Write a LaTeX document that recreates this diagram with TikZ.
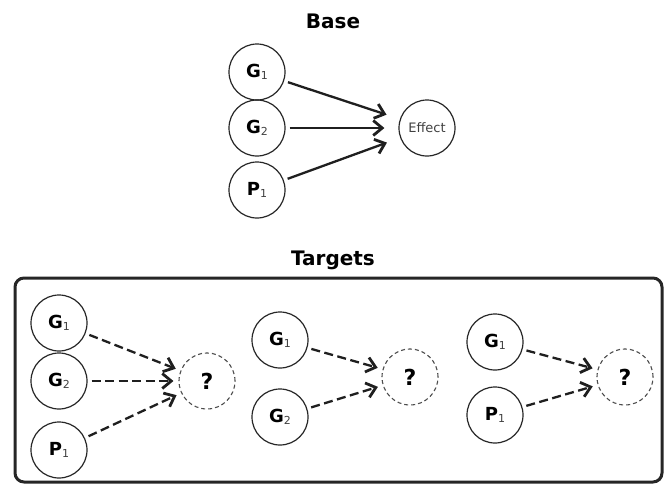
\documentclass[tikz,border=0pt]{standalone}
\usepackage{fontspec}
\setmainfont{DejaVu Sans}
\usetikzlibrary{arrows.meta}
\newcommand{\lab}[2]{{\fontsize{18}{18}\selectfont\bfseries #1}\raisebox{-0.35ex}{\fontsize{11}{11}\selectfont\color{black!75}#2}}
\begin{document}
\begin{tikzpicture}[x=1pt,y=-1pt,
  var/.style={circle,draw=black!85,line width=1.2pt,minimum size=56pt,inner sep=0pt},
  unk/.style={circle,draw=black!70,line width=1.1pt,dash pattern=on 4pt off 3pt,minimum size=56pt,inner sep=0pt,font=\fontsize{22}{22}\selectfont\bfseries},
  title/.style={font=\fontsize{20}{20}\selectfont\bfseries},
  arr/.style={-{Straight Barb[length=9pt,width=15pt,line width=2.8pt]},line width=2.3pt,draw=black!88,shorten >=14pt,shorten <=4pt},
  darr/.style={arr,shorten >=5pt,dash pattern=on 9pt off 4.5pt}]
\useasboundingbox (0,0) rectangle (665,485);
% Base
\node[title] (base) at (333,21) {Base};
\node[var] (bg1) at (257,72) {\lab{G}{1}};
\node[var] (bg2) at (257,128) {\lab{G}{2}};
\node[var] (bp1) at (257,190) {\lab{P}{1}};
\node[var,font=\fontsize{13}{13}\selectfont,text=black!75] (eff) at (427,128) {Effect};
\draw[arr] (bg1) -- (eff);
\draw[arr] (bg2) -- (eff);
\draw[arr] (bp1) -- (eff);
% Targets
\node[title] (tgt) at (333,260) {Targets};
\draw[line width=3pt,draw=black!85,rounded corners=9pt] (15,278) rectangle (662,482);
% group 1
\node[var] (ag1) at (59,323) {\lab{G}{1}};
\node[var] (ag2) at (59,381) {\lab{G}{2}};
\node[var] (ap1) at (59,450) {\lab{P}{1}};
\node[unk] (aq) at (207,381) {?};
\draw[darr] (ag1) -- (aq);
\draw[darr] (ag2) -- (aq);
\draw[darr] (ap1) -- (aq);
% group 2
\node[var] (cg1) at (280,340) {\lab{G}{1}};
\node[var] (cg2) at (280,417) {\lab{G}{2}};
\node[unk] (cq) at (410,377) {?};
\draw[darr] (cg1) -- (cq);
\draw[darr] (cg2) -- (cq);
% group 3
\node[var] (dg1) at (495,342) {\lab{G}{1}};
\node[var] (dp1) at (495,415) {\lab{P}{1}};
\node[unk] (dq) at (625,377) {?};
\draw[darr] (dg1) -- (dq);
\draw[darr] (dp1) -- (dq);
\end{tikzpicture}
\end{document}
